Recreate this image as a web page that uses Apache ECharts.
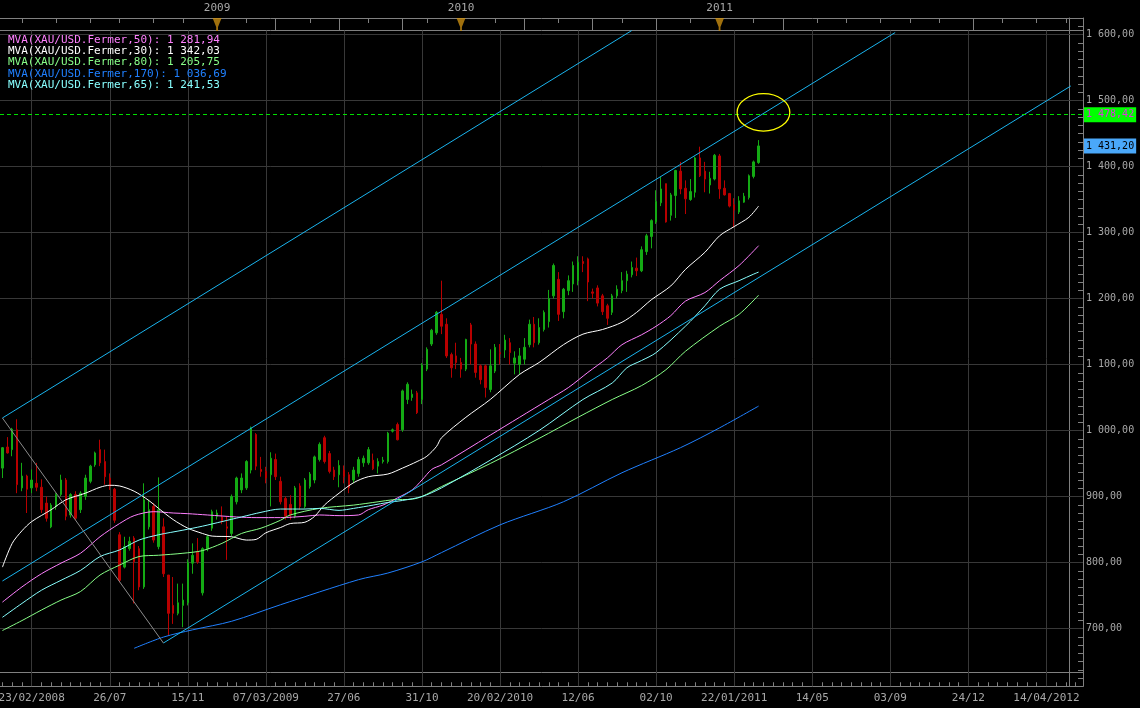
<!DOCTYPE html>
<html><head><meta charset="utf-8">
<script src="https://cdn.jsdelivr.net/npm/echarts@6/dist/echarts.min.js"></script>
<style>html,body{margin:0;padding:0;background:#000;}#c{width:1140px;height:708px;}</style>
</head><body><div id="c"></div>
<script>
// ---------- DATA ----------
const candleOpen = [943,975,971,1001,913,931,913,920,914,890, 854,885,903,925,872,903,880,900,923,948, 971,953,928,911,842,793,821,837,821,763, 854,885,824,854,781,735,723,735,739,799, 816,754,821,852,870,869,854,844,892,910, 913,940,994,941,938,933,956,923,897,888, 870,916,885,915,925,956,989,965,940,933, 940,933,925,935,951,951,955,946,953,953, 999,1009,1001,1047,1050,1057,1047,1093,1131,1148, 1176,1161,1115,1113,1103,1093,1160,1131,1098,1098, 1062,1090,1118,1122,1133,1102,1100,1108,1130,1161, 1133,1153,1165,1204,1229,1180,1212,1222,1227,1256, 1260,1210,1216,1204,1189,1179,1204,1212,1227,1236, 1246,1242,1271,1294,1316,1345,1374,1326,1356,1393, 1367,1350,1361,1413,1393,1372,1381,1416,1367,1359, 1342,1331,1346,1353,1385,1406];
const candleClose = [974,966,1002,918,931,911,925,914,880,867, 887,903,925,870,903,867,905,928,946,966, 951,930,915,864,773,824,832,801,763,895, 880,834,880,783,723,723,739,743,800,811, 801,821,839,877,875,862,852,900,928,928, 953,1004,946,938,928,958,930,892,870,872, 913,885,925,934,960,979,953,938,930,947, 930,913,940,956,958,971,942,953,955,996, 1001,986,1060,1070,1055,1027,1099,1123,1152,1179, 1158,1113,1095,1103,1093,1138,1131,1088,1077,1065, 1098,1126,1116,1137,1118,1110,1113,1126,1161,1133, 1156,1179,1200,1250,1176,1214,1227,1250,1255,1253, 1225,1208,1193,1180,1170,1204,1214,1227,1237,1247, 1242,1274,1295,1318,1347,1366,1316,1357,1394,1366, 1351,1362,1413,1386,1381,1382,1417,1366,1357,1340, 1334,1348,1355,1386,1407,1431.2];
const candleLow = [928,965,961,905,908,875,905,908,875,862, 852,880,900,864,868,864,875,895,920,945, 946,918,910,860,770,791,818,738,758,760, 850,830,820,778,690,707,720,702,735,783, 798,750,817,848,865,858,804,840,888,905, 910,935,940,930,920,885,925,888,865,865, 867,880,882,912,920,953,950,935,925,914, 920,905,920,930,945,948,940,935,950,950, 997,985,998,1040,1045,1025,1040,1090,1128,1145, 1146,1110,1080,1093,1080,1090,1100,1080,1070,1050, 1058,1087,1100,1110,1100,1085,1085,1100,1126,1126, 1130,1150,1156,1200,1166,1170,1205,1210,1220,1240, 1196,1200,1188,1175,1160,1175,1200,1208,1210,1232, 1234,1240,1266,1276,1313,1340,1315,1318,1322,1358, 1328,1348,1353,1384,1361,1359,1379,1351,1356,1338, 1308,1328,1345,1350,1382,1404];
const candleHigh = [975,990,1004,1017,951,933,941,951,926,900, 890,905,933,928,905,908,908,933,948,968, 986,971,935,913,846,839,839,840,825,920, 895,890,929,867,781,778,768,768,805,829, 837,823,842,880,880,885,870,903,930,935, 955,1006,996,960,945,967,965,930,900,902, 916,920,928,937,962,982,992,969,945,955, 947,937,945,960,962,975,965,958,960,998, 1003,1012,1062,1073,1062,1060,1102,1126,1154,1181, 1227,1170,1118,1133,1110,1139,1163,1135,1100,1100, 1123,1131,1131,1145,1140,1120,1125,1140,1168,1172, 1170,1182,1213,1253,1240,1216,1235,1256,1264,1264, 1262,1215,1220,1207,1192,1207,1220,1240,1242,1256, 1262,1279,1298,1320,1364,1384,1374,1360,1395,1407, 1379,1381,1415,1430,1407,1392,1419,1419,1379,1360, 1352,1355,1360,1388,1409,1440];

const barCount = 222; // weekly slots on the axis (including empty future)
const dateTickLabels = ['23/02/2008','26/07','15/11','07/03/2009','27/06','31/10','20/02/2010','12/06','02/10','22/01/2011','14/05','03/09','24/12','14/04/2012'];
const dateTickFirstBar = 6, dateTickStepBars = 16;
const yearLabels = ['2009','2010','2011'];
const yearBars = [44, 94, 147];
const topShortTickBars = [4,11,18,24,31,37,50,63,75,87,101,114,127,141,154,167,173,180,186,192,205,212,218];
const topLongTickBars = [56,69,82,107,121,134,160,199];
const gridValues = [700,800,900,1000,1100,1200,1300,1400,1500,1600];

// moving averages [bar, value]
const mva50 = [[0,740],[4,763],[8,783],[12,799],[16,814],[20,839],[24,859],[27,871],[31,877],[35,875],[38,874],[42,872],[48,869],[52,868],[57,868],[62,870],[65,872],[69,871],[73,872],[75,880],[78,887],[81,898],[84,910],[86,925],[88,941],[90,948],[100,993],[106,1020],[112,1047],[116,1065],[120,1088],[124,1110],[127,1130],[131,1145],[134,1158],[137,1174],[140,1196],[144,1209],[147,1227],[151,1250],[155,1280]];
const mva30 = [[0,793],[2,829],[4,848],[6,862],[10,880],[13,895],[17,905],[20,914],[22,917],[24,916],[27,908],[30,894],[32,882],[35,865],[38,852],[41,844],[43,840],[47,839],[50,834],[52,835],[54,845],[57,853],[59,859],[62,861],[64,870],[66,887],[69,905],[72,921],[75,930],[79,934],[82,943],[85,953],[87,961],[89,976],[90,989],[95,1020],[100,1047],[106,1085],[110,1103],[115,1130],[119,1146],[123,1153],[127,1164],[130,1179],[133,1198],[137,1219],[140,1244],[144,1270],[147,1295],[150,1309],[153,1323],[155,1340]];
const mva80 = [[0,697],[4,712],[8,728],[12,743],[16,756],[20,781],[24,796],[28,809],[32,811],[37,814],[41,818],[45,829],[49,844],[53,852],[57,864],[59,872],[65,882],[72,887],[77,892],[80,895],[84,896],[86,900],[90,915],[100,950],[110,988],[118,1020],[125,1047],[131,1068],[136,1092],[140,1120],[147,1158],[151,1176],[155,1205]];
const mva170 = [[27,670],[33,687],[39,698],[47,711],[57,736],[73,774],[79,784],[86,801],[90,815],[102,857],[115,892],[127,936],[139,974],[147,1004],[155,1037]];
const mva65 = [[0,717],[4,738],[8,758],[12,773],[16,788],[20,809],[24,819],[28,834],[32,842],[37,849],[41,855],[45,862],[49,869],[53,876],[57,881],[62,881],[65,882],[69,879],[72,882],[76,887],[79,891],[82,894],[86,900],[90,913],[100,955],[110,1000],[119,1047],[125,1072],[128,1095],[131,1106],[134,1118],[140,1158],[144,1189],[147,1214],[151,1227],[154,1237],[155,1240]];
const mvaNames = ['MVA(XAU/USD.Fermer,50)','MVA(XAU/USD.Fermer,30)','MVA(XAU/USD.Fermer,80)','MVA(XAU/USD.Fermer,170)','MVA(XAU/USD.Fermer,65)'];
const mvaLast = [1281.94, 1342.03, 1205.75, 1036.69, 1241.53];

// trend channel & annotations
const channelUpper = [[0,1019],[129,1606]];
const channelMiddle = [[0,772],[183,1603]];
const channelLower = [[33,678],[219,1522]];
const diagonalLine = [[0,1019],[33,678]];
const resistanceLevel = 1478.42;
const lastPrice = 1431.20;
const circleMark = [156, 1482, 5.4, 28.3]; // centre bar, centre value, half-width (bars), half-height (value)

// ---------- STYLE ----------
const FONT = 'DejaVu Sans Mono';
const AX = '#808080', GRIDC = '#383838', LBL = '#a8a8a8';
const mvaColors = ['#ff80ff','#ffffff','#88ff88','#2080ff','#88ffff'];
const channelColor = '#1ab4ee';

function frNum(v){ const p = v.toFixed(2).split('.'); return p[0].replace(/\B(?=(\d{3})+(?!\d))/g,' ') + ',' + p[1]; }

const cats = Array.from({length: barCount}, (_, i) => String(i));
const dateLabelAt = {}; dateTickLabels.forEach((t,k)=>{ dateLabelAt[dateTickFirstBar + k*dateTickStepBars] = t; });
const yearAt = {}; yearBars.forEach((b,k)=>{ yearAt[b] = yearLabels[k]; });
const shortSet = new Set(topShortTickBars), longSet = new Set(topLongTickBars);
const mvaData = [mva50, mva30, mva80, mva170, mva65];

const chart = echarts.init(document.getElementById('c'), null, {renderer:'canvas'});

const baseCat = {type:'category', data:cats, boundaryGap:true, gridIndex:0};
const option = {
  backgroundColor:'#000',
  animation:false,
  textStyle:{fontFamily:FONT},
  grid:{left:0, right:57, top:18, bottom:21.75, containLabel:false, outerBoundsMode:'none'},
  legend:{
    orient:'vertical', left:3, top:34.5, padding:0, itemWidth:0, itemHeight:11, itemGap:0.3,
    selectedMode:false,
    data: mvaNames.map((n,i)=>({name:n, icon:'none', textStyle:{color:mvaColors[i]}})),
    textStyle:{fontFamily:FONT, fontSize:11},
    formatter: name => name + ': ' + frNum(mvaLast[mvaNames.indexOf(name)])
  },
  xAxis:[
    Object.assign({}, baseCat, {position:'bottom',
      axisLine:{onZero:false, lineStyle:{color:AX}},
      axisTick:{show:true, inside:true, length:4, alignWithLabel:true, interval:(i)=> (i - dateTickFirstBar) % 2 === 0, lineStyle:{color:AX}},
      axisLabel:{interval:(i)=> dateLabelAt[i] !== undefined, formatter:(v)=> dateLabelAt[Number(v)] || '', color:LBL, fontFamily:FONT, fontSize:11, margin:6},
      splitLine:{show:false}}),
    Object.assign({}, baseCat, {position:'bottom', offset:-14.25,
      axisLine:{onZero:false, lineStyle:{color:AX}}, axisTick:{show:false}, axisLabel:{show:false}, splitLine:{show:false}}),
    Object.assign({}, baseCat, {position:'top',
      axisLine:{onZero:false, lineStyle:{color:AX}},
      axisTick:{show:true, inside:true, length:5, alignWithLabel:true, interval:(i)=> shortSet.has(i), lineStyle:{color:AX}},
      axisLabel:{interval:(i)=> yearAt[i] !== undefined, formatter:(v)=> yearAt[Number(v)] || '', color:LBL, fontFamily:FONT, fontSize:11, margin:4},
      splitLine:{show:false}}),
    Object.assign({}, baseCat, {position:'top',
      axisLine:{show:false},
      axisTick:{show:true, inside:true, length:13, alignWithLabel:true, interval:(i)=> longSet.has(i), lineStyle:{color:AX}},
      axisLabel:{show:false}, splitLine:{show:false}}),
    Object.assign({}, baseCat, {position:'top', offset:-12.5,
      axisLine:{onZero:false, lineStyle:{color:AX}}, axisTick:{show:false}, axisLabel:{show:false}, splitLine:{show:false}})
  ],
  yAxis:[
    {type:'value', position:'right', min:612.5, max:1625, interval:12.5, scale:true,
      axisLine:{show:true, onZero:false, lineStyle:{color:AX}},
      axisTick:{show:true, inside:true, length:5, lineStyle:{color:AX}},
      axisLabel:{formatter:(v)=> (Math.abs(v % 100) < 1e-6 ? frNum(v) : ''), color:LBL, fontFamily:FONT, fontSize:10, margin:3, padding:[4,0,0,0]},
      splitLine:{show:false}},
    {type:'value', position:'right', offset:-14, min:612.5, max:1625, interval:12.5, scale:true,
      axisLine:{show:true, onZero:false, lineStyle:{color:AX}}, axisTick:{show:false}, axisLabel:{show:false}, splitLine:{show:false}}
  ],
  series:[
    {
      type:'candlestick', name:'XAU/USD', z:2,
      data: candleOpen.map((o,i)=>[o, candleClose[i], candleLow[i], candleHigh[i]]),
      barWidth:2,
      itemStyle:{color:'#14aa14', color0:'#b80000', borderColor:'#14aa14', borderColor0:'#b80000', borderWidth:1},
      markLine:{
        silent:true, symbol:'none', z:6,
        data:[
          {yAxis:resistanceLevel, lineStyle:{color:'#00e000', type:[4,3], width:1},
           label:{show:true, position:'end', distance:1, formatter:frNum(resistanceLevel), backgroundColor:'#00ff00', color:'#e030e0', padding:[3,2,2,2], fontFamily:FONT, fontSize:10}},
          {yAxis:lastPrice, lineStyle:{color:'rgba(0,0,0,0)', width:1},
           label:{show:true, position:'end', distance:1, formatter:frNum(lastPrice), backgroundColor:'#4aa8fa', color:'#000000', padding:[3,2,2,2], fontFamily:FONT, fontSize:10}}
        ]
      }
    },
    ...mvaData.map((d,i)=>({
      type:'line', name:mvaNames[i], data:d, showSymbol:false, symbol:'none', smooth:0.3, z:3,
      lineStyle:{color:mvaColors[i], width:1}, itemStyle:{color:mvaColors[i]},
      markLine: i === 3 ? {
        silent:true, symbol:'none', z:1, label:{show:false},
        lineStyle:{color:GRIDC, width:1, type:'solid'},
        data: gridValues.map(v=>({yAxis:v})).concat(
          dateTickLabels.map((_,k)=>[{coord:[dateTickFirstBar + k*dateTickStepBars, 1606]},{coord:[dateTickFirstBar + k*dateTickStepBars, 612.5]}])
        )
      } : undefined
    })),
    ...[channelUpper, channelMiddle, channelLower].map(d=>({
      type:'line', data:d, showSymbol:false, symbol:'none', z:3, lineStyle:{color:channelColor, width:1}
    })),
    {type:'line', data:diagonalLine, showSymbol:false, symbol:'none', z:3, lineStyle:{color:'#8c8c8c', width:1}},
    {type:'scatter', data: yearBars.map(b=>[b, 1615]), z:6,
      symbol:'path://M0,0 L10,0 L6,9 L6,13 L4,13 L4,9 Z', symbolSize:[9,13],
      itemStyle:{color:'#c88c10'}},
    {type:'custom', data:[circleMark], z:7, encode:{x:0, y:1},
      renderItem:(params, api)=>{
        const c = api.coord([api.value(0), api.value(1)]);
        const bw = api.size([1, 0])[0];
        const t = api.coord([api.value(0), api.value(1) + api.value(3)]);
        return {type:'ellipse', shape:{cx:c[0], cy:c[1], rx:bw*api.value(2), ry:Math.abs(c[1]-t[1])},
          style:{fill:'none', stroke:'#ffff00', lineWidth:1.3}};
      }}
  ]
};
chart.setOption(option);
</script>
</body></html>
